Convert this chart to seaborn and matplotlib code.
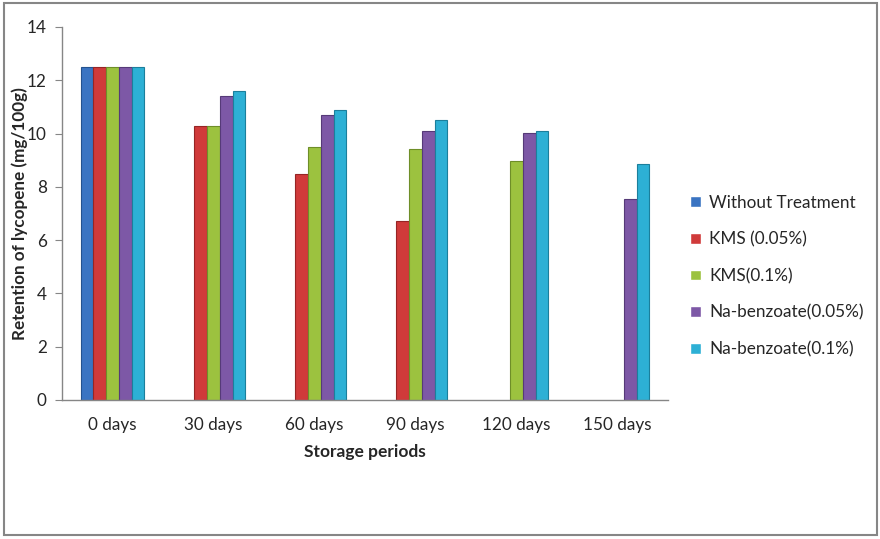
import numpy as np
import pandas as pd
import matplotlib
matplotlib.use("Agg")
import matplotlib.pyplot as plt
import seaborn as sns
from matplotlib.patches import Rectangle

periods = ["0 days", "30 days", "60 days", "90 days", "120 days", "150 days"]
treatments = ["Without Treatment", "KMS (0.05%)", "KMS(0.1%)",
              "Na-benzoate(0.05%)", "Na-benzoate(0.1%)"]

without_treatment = [12.5, np.nan, np.nan, np.nan, np.nan, np.nan]
kms_005 = [12.5, 10.3, 8.47, 6.7, np.nan, np.nan]
kms_01 = [12.5, 10.3, 9.5, 9.42, 8.97, np.nan]
nab_005 = [12.5, 11.4, 10.7, 10.1, 10.02, 7.56]
nab_01 = [12.5, 11.6, 10.9, 10.5, 10.1, 8.86]

colors = ["#3A74C2", "#D03A3A", "#9CC23F", "#7D58A6", "#2DB0D5"]
edges = ["#24528F", "#962525", "#6E8E28", "#563A78", "#1B7F9C"]

series = [without_treatment, kms_005, kms_01, nab_005, nab_01]
rows = []
for name, vals in zip(treatments, series):
    for p, v in zip(periods, vals):
        rows.append({"period": p, "treatment": name, "value": v})
df = pd.DataFrame(rows)

sns.set_style("white")
plt.rcParams["font.family"] = ["Lato", "DejaVu Sans"]

fig = plt.figure(figsize=(8.8, 5.39), dpi=100)
ax = fig.add_axes([0.0705, 0.258, 0.6885, 0.692])

sns.barplot(data=df, x="period", y="value", hue="treatment",
            order=periods, hue_order=treatments, palette=colors,
            width=0.63, saturation=1, errorbar=None, ax=ax, legend=True)

# darker edges per series
for container, ec in zip(ax.containers, edges):
    for bar in container:
        bar.set_edgecolor(ec)
        bar.set_linewidth(0.8)

ax.set_ylim(0, 14)
ax.set_xlim(-0.5, 5.5)
ax.set_yticks(range(0, 15, 2))
ax.set_xlabel("Storage periods", fontsize=12.5, fontweight="bold", labelpad=8)
ax.set_ylabel("Retention of lycopene (mg/100g)", fontsize=12.3,
              fontweight="bold")
ax.yaxis.set_label_coords(-0.057, 0.5)
ax.tick_params(axis="y", length=5, color="#868686", labelsize=12.3,
               direction="out", left=True, pad=6)
ax.tick_params(axis="x", length=0, labelsize=12.3, pad=12)

for side in ["top", "right"]:
    ax.spines[side].set_visible(False)
for side in ["left", "bottom"]:
    ax.spines[side].set_color("#868686")
    ax.spines[side].set_linewidth(1)

handles, labels = ax.get_legend_handles_labels()
ax.legend(handles, labels, loc="center left", bbox_to_anchor=(0.767, 0.488),
          bbox_transform=fig.transFigure, frameon=False, fontsize=12.3,
          handlelength=0.6, handleheight=0.6, handletextpad=0.5,
          labelspacing=1.2)

fig.patches.append(Rectangle((0.004, 0.007), 0.993, 0.988,
                             transform=fig.transFigure, fill=False,
                             edgecolor="#868686", linewidth=1.5))

fig.savefig("out.png", dpi=100)
